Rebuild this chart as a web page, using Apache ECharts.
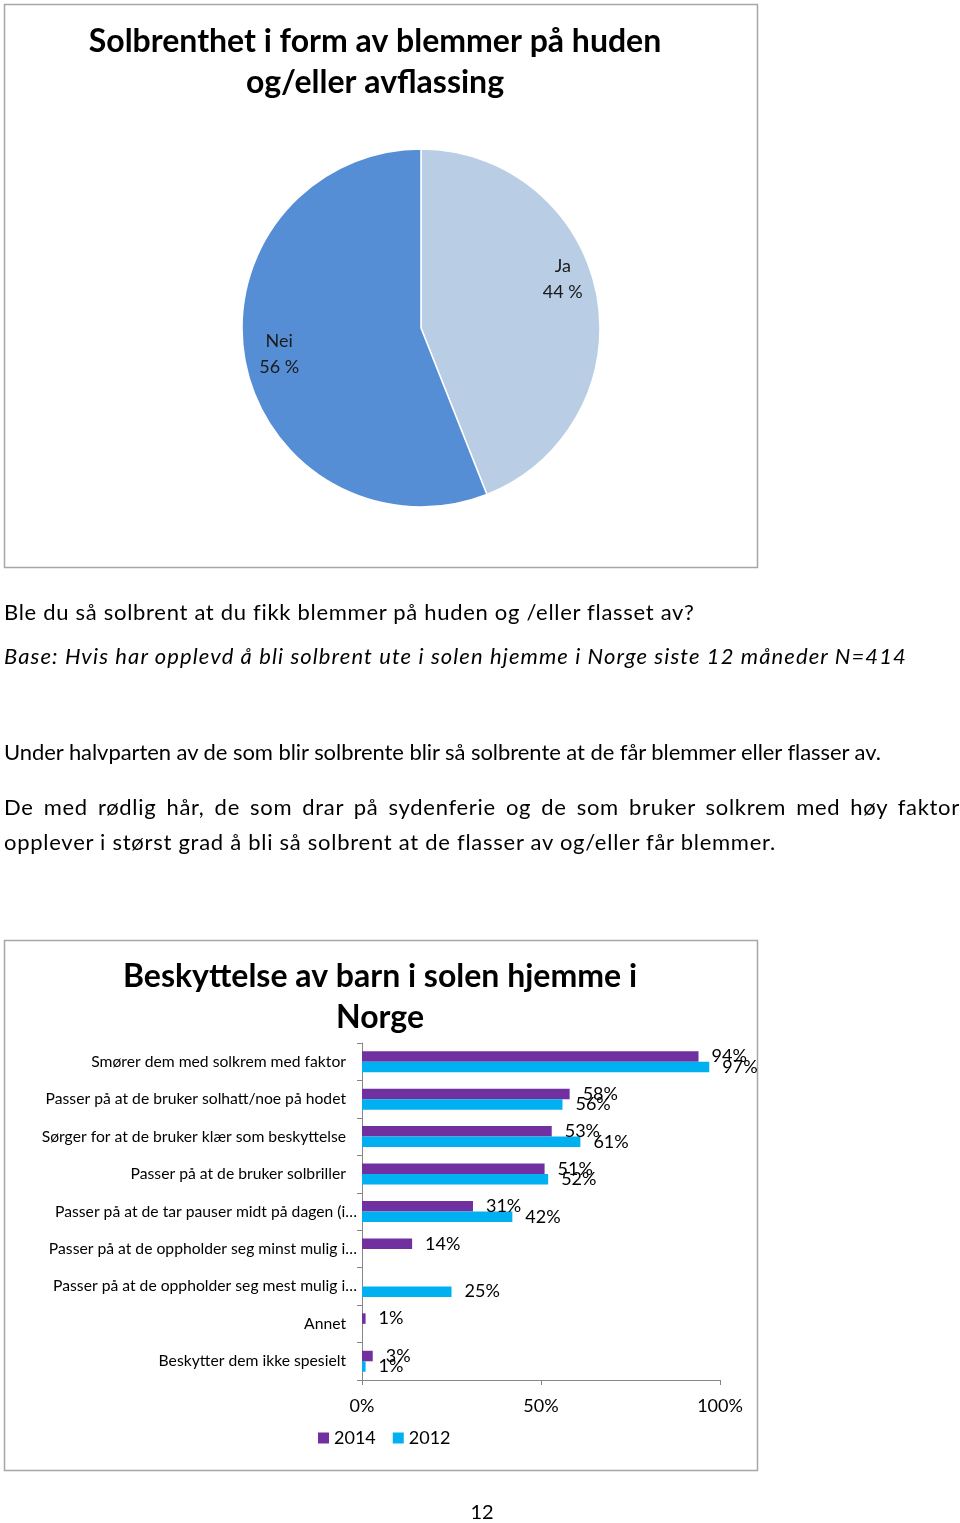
<!DOCTYPE html>
<html>
<head>
<meta charset="utf-8">
<script src="https://cdn.jsdelivr.net/npm/echarts@6/dist/echarts.min.js"></script>
<style>
  html, body { margin: 0; padding: 0; background: #fff; }
  #wrap { position: relative; width: 960px; height: 1523px; }
  #chart { position: absolute; left: 0; top: 0; width: 960px; height: 1523px; }
  .txt { position: absolute; left: 4px; font-family: Lato, "Noto Sans", sans-serif; font-size: 22px; color: #000; white-space: nowrap; line-height: 26px; }
  .just { position: absolute; left: 4px; width: 956px; font-family: Lato, "Noto Sans", sans-serif; font-size: 22px; color: #000; text-align: justify; text-align-last: justify; line-height: 26px; white-space: nowrap; letter-spacing: 0.7px; }
</style>
</head>
<body>
<div id="wrap">
  <div id="chart"></div>
  <div class="txt" style="top:599px;letter-spacing:0.7px;">Ble du så solbrent at du fikk blemmer på huden og /eller flasset av?</div>
  <div class="txt" style="top:643px;font-style:italic;letter-spacing:1.1px;">Base: Hvis har opplevd å bli solbrent ute i solen hjemme i Norge siste 12 måneder N=414</div>
  <div class="txt" style="top:739px;letter-spacing:-0.06px;">Under halvparten av de som blir solbrente blir så solbrente at de får blemmer eller flasser av.</div>
  <div class="just" style="top:794px;">De med rødlig hår, de som drar på sydenferie og de som bruker solkrem med høy faktor</div>
  <div class="txt" style="top:829px;letter-spacing:0.73px;">opplever i størst grad å bli så solbrent at de flasser av og/eller får blemmer.</div>
</div>
<script>
// Pie chart data
const pieNames = ['Ja', 'Nei'];
const pieValues = [44, 56];
const pieColors = ['#b9cde5', '#558ed5'];

// Bar chart data
const barCategories = [
  'Smører dem med solkrem med faktor',
  'Passer på at de bruker solhatt/noe på hodet',
  'Sørger for at de bruker klær som beskyttelse',
  'Passer på at de bruker solbriller',
  'Passer på at de tar pauser midt på dagen (i…',
  'Passer på at de oppholder seg minst mulig i…',
  'Passer på at de oppholder seg mest mulig i…',
  'Annet',
  'Beskytter dem ikke spesielt'
];
const values2014 = [94, 58, 53, 51, 31, 14, null, 1, 3];
const values2012 = [97, 56, 61, 52, 42, null, 25, null, 1];
const xTicks = [0, 50, 100];

const FONT = 'Lato, "Noto Sans", sans-serif';
const chart = echarts.init(document.getElementById('chart'), null, { renderer: 'canvas', width: 960, height: 1523 });

const pieLabelOffsets = [[-9, -20], [9, -3]];
const pieData = pieNames.map((n, i) => ({ name: n, value: pieValues[i], itemStyle: { color: pieColors[i] } }));

// truncated (ellipsis) labels sit a bit closer to the axis, as in the original
const yAxisData = barCategories.map(c => c.endsWith('…') ? { value: c, textStyle: { padding: [0, -11, 0, 0] } } : c);

chart.setOption({
  animation: false,
  textStyle: { fontFamily: FONT },
  graphic: [
    { type: 'rect', shape: { x: 4.5, y: 4.5, width: 753, height: 563 }, style: { fill: 'none', stroke: '#a6a6a6', lineWidth: 1.5 }, z: 0 },
    { type: 'rect', shape: { x: 4.5, y: 940.5, width: 753, height: 530 }, style: { fill: 'none', stroke: '#a6a6a6', lineWidth: 1.5 }, z: 0 },
    { type: 'text', x: 375, y: 42, style: { text: 'Solbrenthet i form av blemmer på huden', textAlign: 'center', textVerticalAlign: 'middle', font: 'bold 32px ' + FONT, fill: '#000' } },
    { type: 'text', x: 375, y: 83, style: { text: 'og/eller avflassing', textAlign: 'center', textVerticalAlign: 'middle', font: 'bold 32px ' + FONT, fill: '#000' } },
    { type: 'text', x: 380, y: 977, style: { text: 'Beskyttelse av barn i solen hjemme i', textAlign: 'center', textVerticalAlign: 'middle', font: 'bold 32px ' + FONT, fill: '#000' } },
    { type: 'text', x: 380, y: 1018, style: { text: 'Norge', textAlign: 'center', textVerticalAlign: 'middle', font: 'bold 32px ' + FONT, fill: '#000' } },
    { type: 'text', x: 482, y: 1513, style: { text: '12', textAlign: 'center', textVerticalAlign: 'middle', font: '20px ' + FONT, fill: '#000' } }
  ],
  legend: {
    left: 318, top: 1429, padding: 0,
    itemWidth: 11, itemHeight: 11, itemGap: 17,
    icon: 'rect',
    textStyle: { fontSize: 18, color: '#000', fontFamily: FONT },
    data: ['2014', '2012']
  },
  grid: { left: 362, top: 1043, width: 358, height: 337, containLabel: false },
  xAxis: {
    type: 'value', min: 0, max: 100, interval: 50,
    axisLine: { show: true, lineStyle: { color: '#868686', width: 1 } },
    axisTick: { show: true, length: 5, lineStyle: { color: '#868686' } },
    splitLine: { show: false },
    axisLabel: { margin: 17, fontSize: 18, color: '#000', fontFamily: FONT, formatter: v => v + '%', customValues: xTicks }
  },
  yAxis: {
    type: 'category', inverse: true, data: yAxisData,
    axisLine: { show: true, lineStyle: { color: '#868686', width: 1 } },
    axisTick: { show: true, length: 5, lineStyle: { color: '#868686' } },
    axisLabel: { margin: 16, fontSize: 15.7, color: '#000', fontFamily: FONT }
  },
  series: [
    {
      type: 'pie', center: [421, 328], radius: 179, startAngle: 90, clockwise: true,
      data: pieData, label: { show: false }, labelLine: { show: false },
      itemStyle: { borderColor: '#fff', borderWidth: 1.5 }, silent: true
    },
    {
      type: 'pie', center: [421, 328], radius: [122, 179], startAngle: 90, clockwise: true,
      data: pieNames.map((n, i) => ({ name: n, value: pieValues[i], label: { offset: pieLabelOffsets[i] } })),
      itemStyle: { color: 'rgba(0,0,0,0)' }, silent: true,
      label: { show: true, position: 'inside', formatter: p => p.name + '\n' + p.value + ' %', fontSize: 18, lineHeight: 26, color: '#1a1a1a', fontFamily: FONT },
      labelLine: { show: false }
    },
    {
      name: '2014', type: 'bar', data: values2014, barWidth: 10.5, barGap: '0%',
      itemStyle: { color: '#7030a0' },
      label: { show: true, position: 'right', distance: 13, fontSize: 18, color: '#000', fontFamily: FONT, formatter: p => p.value + '%' }
    },
    {
      name: '2012', type: 'bar', data: values2012, barWidth: 10.5, barGap: '0%',
      itemStyle: { color: '#00b0f0' },
      label: { show: true, position: 'right', distance: 13, fontSize: 18, color: '#000', fontFamily: FONT, formatter: p => p.value + '%' }
    }
  ]
});
</script>
</body>
</html>
